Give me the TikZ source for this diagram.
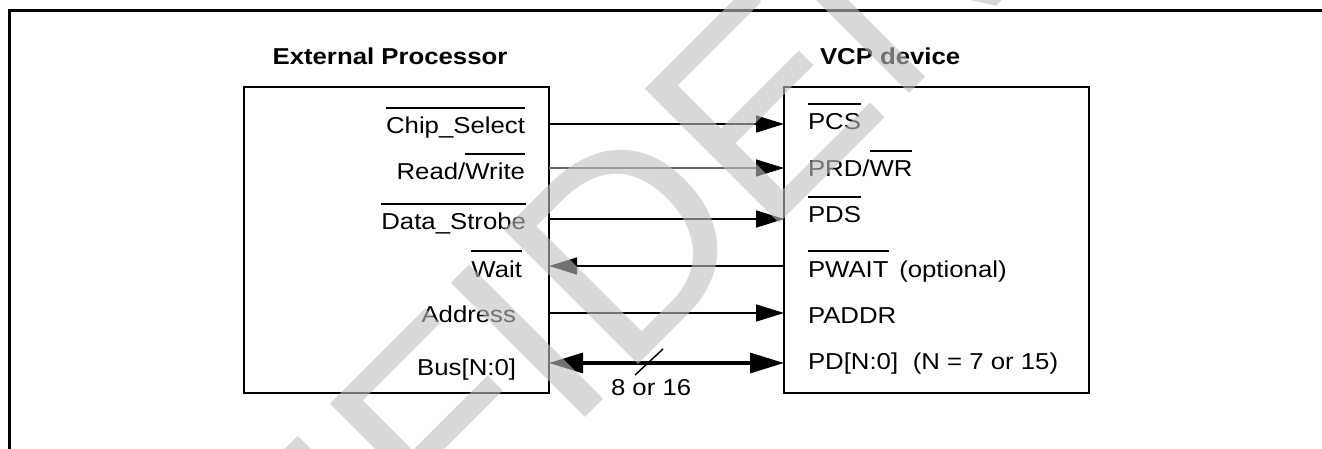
\documentclass[tikz,border=0pt]{standalone}
\usepackage{fontspec}
\setmainfont{Liberation Sans}[FakeStretch=1.12]
\newfontfamily\wmfont{Liberation Sans}
\usetikzlibrary{arrows.meta}
\newlength\ovlwd
\newcommand\ovl[1]{\settowidth\ovlwd{#1}\rlap{\rule[19pt]{\ovlwd}{1.1pt}}#1}
\begin{document}
\begin{tikzpicture}[x=0.75pt,y=-0.75pt,
  lbl/.style={inner sep=0pt,outer sep=0pt,font=\fontsize{17.25pt}{20pt}\selectfont},
  ttl/.style={inner sep=0pt,outer sep=0pt,font=\fontsize{17.25pt}{20pt}\selectfont\bfseries},
  blk/.style={draw,line width=1.5pt,inner sep=0pt,outer sep=0pt,minimum width=228.75pt,minimum height=229.5pt},
  sig/.style={line width=1.2pt,-{Triangle[length=21pt,width=12.75pt]}},
  rwsig/.style={line width=0.9pt,draw=black!60,-{Triangle[length=21pt,width=12.75pt,color=black]}},
  bus/.style={line width=2.4pt,{Triangle[length=25.5pt,width=15pt]}-{Triangle[length=25.5pt,width=15pt]}},
  wm/.style={rotate=45,anchor=base west,inner sep=0pt,outer sep=0pt,text=black!25,text opacity=0.6,font=\wmfont\fontsize{207pt}{207pt}\selectfont}
]
\useasboundingbox (0,0) rectangle (1322,449);
% frame
\coordinate (fTR) at (1322,10.5);
\coordinate (fTL) at (9,10.5);
\coordinate (fBL) at (9,449);
\draw[line width=2.25pt] (fTR) -- (fTL) -- (fBL);
% blocks
\node[blk] (ep) at (396.5,240) {};
\node[blk] (vcp) at (936.5,240) {};
\node[ttl,anchor=base] (eptitle) at (390,65) {External Processor};
\node[ttl,anchor=base west] (vcptitle) at (820,65) {VCP device};
% rows
\coordinate (rCS) at (0,124);
\coordinate (rRW) at (0,168);
\coordinate (rDS) at (0,219);
\coordinate (rW) at (0,266);
\coordinate (rA) at (0,313);
\coordinate (rB) at (0,363);
% left labels
\node[lbl,anchor=base east] (lCS) at (525,134) {\ovl{Chip\_Select}};
\node[lbl,anchor=base east] (lRW) at (525,180) {Read/\ovl{Write}};
\node[lbl,anchor=base east] (lDS) at (526,230) {\ovl{Data\_Strobe}};
\node[lbl,anchor=base east] (lW) at (522,277) {\ovl{Wait}};
\node[lbl,anchor=base east] (lA) at (516,322) {Address};
\node[lbl,anchor=base east] (lB) at (516,375) {Bus[N:0]};
% right labels
\node[lbl,anchor=base west] (rlCS) at (808,130) {\ovl{PCS}};
\node[lbl,anchor=base west] (rlRW) at (808,177) {PRD/\ovl{WR}};
\node[lbl,anchor=base west] (rlDS) at (808,223) {\ovl{PDS}};
\node[lbl,anchor=base west] (rlW) at (808,277) {\ovl{PWAIT}\hspace{8pt}(optional)};
\node[lbl,anchor=base west] (rlA) at (808,323) {PADDR};
\node[lbl,anchor=base west] (rlB) at (808,369) {PD[N:0]\hspace{11pt}(N = 7 or 15)};
% connectors
\draw[sig] (ep.east |- rCS) -- (vcp.west |- rCS);
\draw[rwsig] (ep.east |- rRW) -- (vcp.west |- rRW);
\draw[sig] (ep.east |- rDS) -- (vcp.west |- rDS);
\draw[sig] (vcp.west |- rW) -- (ep.east |- rW);
\draw[sig] (ep.east |- rA) -- (vcp.west |- rA);
\draw[bus] (ep.east |- rB) -- (vcp.west |- rB);
\coordinate (sl1) at (635,375);
\coordinate (sl2) at (663,349);
\draw[line width=1.1pt] (sl1) -- (sl2);
\node[lbl,anchor=base west] (bw) at (611,395) {8 or 16};
% watermark
\begin{scope}
\clip (0,0) rectangle (1322,449);
\node[wm] (wmark) at (15,988) {CONFIDENTIAL};
\end{scope}
\end{tikzpicture}
\end{document}
